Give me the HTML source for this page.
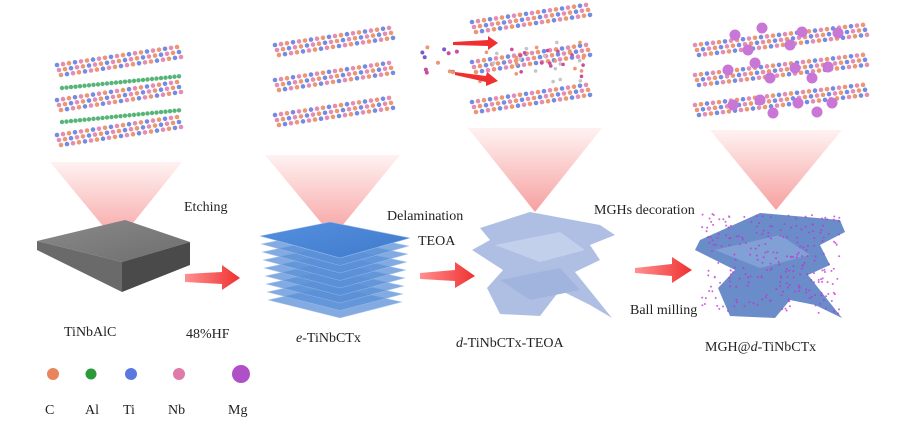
<!DOCTYPE html>
<html><head><meta charset="utf-8"><style>
html,body{margin:0;padding:0;background:#fff;}
svg{display:block;}
text{font-family:"Liberation Serif",serif;fill:#222;}
</style></head><body>
<svg id="s" width="907" height="424" viewBox="0 0 907 424" xmlns="http://www.w3.org/2000/svg">
<defs>
<linearGradient id="cone" x1="0" y1="0" x2="0" y2="1">
<stop offset="0" stop-color="#fff2f2"/><stop offset="1" stop-color="#f7a0a0"/></linearGradient>
<linearGradient id="gtop" x1="0" y1="0" x2="1" y2="1"><stop offset="0" stop-color="#8a8a8a"/><stop offset="1" stop-color="#6e6e6e"/></linearGradient>
<linearGradient id="blue" x1="0" y1="0" x2="1" y2="1"><stop offset="0" stop-color="#5590e0"/><stop offset="1" stop-color="#3f7acb"/></linearGradient>
<linearGradient id="arr" x1="0" y1="0" x2="1" y2="0"><stop offset="0" stop-color="#ff9090"/><stop offset="1" stop-color="#f03030"/></linearGradient>
</defs>
<g id="atoms" opacity="0.85"></g>
<polygon points="50,162 182,162 117,243" fill="url(#cone)"/>
<polygon points="265,155 400,155 333,237" fill="url(#cone)"/>
<polygon points="468,128 602,128 535,212" fill="url(#cone)"/>
<polygon points="710,130 842,130 776,210" fill="url(#cone)"/>
<polygon points="37,241 125,220 190,242 122,262" fill="url(#gtop)"/>
<polygon points="37,241 122,262 122,292 37,250" fill="#6a6a6a"/>
<polygon points="122,262 190,242 190,265 122,292" fill="#4a4a4a"/>
<g id="stack"></g>
<g opacity="0.8">
<path d="M480,228 L530,212 L600,225 L615,235 L590,245 L600,260 L575,272 L612,318 L590,305 L560,290 L540,316 L500,314 L487,288 L503,270 L472,250 L490,240 Z" fill="#9cb0de"/>
<path d="M495,245 L560,232 L585,250 L540,262 Z" fill="#b5c5e8"/>
<path d="M500,280 L560,268 L580,290 L530,300 Z" fill="#8aa2d6"/>
</g>
<g opacity="0.9">
<path d="M700,240 L760,213 L840,220 L845,232 L820,245 L830,265 L808,275 L842,318 L815,305 L790,300 L775,318 L730,316 L718,288 L735,270 L695,250 Z" fill="#5a80c4"/>
<path d="M715,250 L780,235 L810,255 L760,268 Z" fill="#7496d2"/>
</g>
<g id="mgdots" opacity="0.75"></g>
<polygon points="185,274 222,272 222,265 240,278 222,290 222,284 185,282" fill="url(#arr)"/>
<polygon points="420,273 455,270 455,262 475,276 455,288 455,281 420,279" fill="url(#arr)"/>
<polygon points="635,268 672,264 672,257 692,270 672,283 672,276 635,273" fill="url(#arr)"/>
<polygon points="453,42 488,40 488,36 498,43 488,50 488,46 453,45" fill="#f03030"/>
<polygon points="455,72 486,76 487,72 498,81 486,86 486,82 455,75" fill="#f03030"/>
<g font-size="14">
<text x="184" y="211">Etching</text>
<text x="64" y="336">TiNbAlC</text>
<text x="186" y="338">48%HF</text>
<text x="296" y="342"><tspan font-style="italic">e</tspan>-TiNbCTx</text>
<text x="387" y="220">Delamination</text>
<text x="418" y="245">TEOA</text>
<text x="456" y="347"><tspan font-style="italic">d</tspan>-TiNbCTx-TEOA</text>
<text x="594" y="214">MGHs decoration</text>
<text x="630" y="314">Ball milling</text>
<text x="705" y="351">MGH@<tspan font-style="italic">d</tspan>-TiNbCTx</text>
<text x="45" y="414">C</text><text x="85" y="414">Al</text><text x="123" y="414">Ti</text><text x="168" y="414">Nb</text><text x="228" y="414">Mg</text>
</g>
<circle cx="53" cy="374" r="6" fill="#e8855a"/>
<circle cx="91" cy="374" r="5.5" fill="#2a9a3a"/>
<circle cx="131" cy="374" r="6" fill="#5a78e0"/>
<circle cx="179" cy="374" r="6" fill="#e07aa8"/>
<circle cx="241" cy="374" r="9" fill="#b050c8"/>
</svg>
<script>
var seed=7;function R(){seed=(seed*16807)%2147483647;return seed/2147483647;}
var NS="http://www.w3.org/2000/svg";
function c(g,x,y,r,f){var e=document.createElementNS(NS,"circle");e.setAttribute("cx",x);e.setAttribute("cy",y);e.setAttribute("r",r);e.setAttribute("fill",f);g.appendChild(e);}
var A=document.getElementById("atoms");
var cols=["#5a78e0","#e07aa8","#e8855a"];
function layer(x0,x1,y,slope){for(var x=x0;x<x1;x+=6){for(var k=0;k<3;k++){var yy=y-(x-x0)*slope+k*5;c(A,x+k*2,yy,2.3,cols[(k+Math.floor(x/6))%3]);}}}
function green(x0,x1,y,slope){for(var x=x0;x<x1;x+=4.5){c(A,x,y-(x-x0)*slope,2.2,"#3aaa60");}}
[65,100,135].forEach(function(y){layer(57,183,y,0.15);});
[88,122].forEach(function(y){green(62,180,y,0.1);});
[45,80,115].forEach(function(y){layer(275,392,y,0.15);});
[22,62,102].forEach(function(y){layer(472,592,y,0.15);});
for(var i=0;i<40;i++){c(A,480+R()*110,40+R()*45,1.8,["#e8855a","#c03090","#bbb"][i%3]);}
for(var i=0;i<12;i++){c(A,422+R()*35,45+R()*30,2,["#e8855a","#c03090","#6040c0"][i%3]);}
[45,75,105].forEach(function(y){layer(695,868,y,0.12);});
[[735,35],[762,28],[802,32],[838,33],[748,50],[790,45],[728,70],[755,63],[795,68],[828,67],[770,78],[812,78],[733,105],[760,100],[798,103],[832,103],[773,113],[817,112]].forEach(function(p){c(A,p[0],p[1],5.5,"#c060d0");});
var S=document.getElementById("stack");
for(var i=8;i>=0;i--){var d=i*8;var p=document.createElementNS(NS,"polygon");
p.setAttribute("points",(260+i)+","+(236+d)+" 330,"+(222+d)+" "+(410-i)+","+(238+d)+" 340,"+(258+d-i*0.5));
p.setAttribute("fill",i==0?"url(#blue)":"#5a90d8");p.setAttribute("opacity",i==0?1:0.75);p.setAttribute("stroke","#9cc0ee");p.setAttribute("stroke-width","0.6");S.appendChild(p);}
var M=document.getElementById("mgdots");
for(var i=0;i<260;i++){var x=702+R()*138,y=214+R()*100;if(y>300&&x>790&&x<815)continue;c(M,x,y,1,"#c030d0");}
</script>
</body></html>
